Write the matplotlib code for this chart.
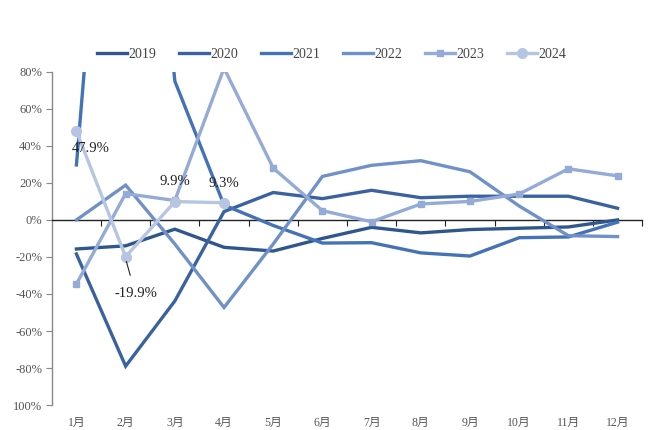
import numpy as np
import matplotlib
matplotlib.use("Agg")
import matplotlib.pyplot as plt
import matplotlib.transforms as mtransforms

plt.rcParams['font.family'] = ['Liberation Serif', 'Noto Sans CJK SC', 'DejaVu Sans']

# month labels and yearly growth rates (%)
months = ['1月', '2月', '3月', '4月', '5月', '6月', '7月', '8月', '9月', '10月', '11月', '12月']
years = ['2019', '2020', '2021', '2022', '2023', '2024']

y2019 = [-15.7, -14, -5, -14.8, -16.8, -10, -4, -7, -5.2, -4.5, -3.8, 0]
y2020 = [-18.4, -79, -43.8, 4.5, 14.8, 11.5, 16, 12, 12.8, 12.8, 12.8, 6.3]
y2021 = [29.7, 350, 75, 8, -3, -12.5, -12.3, -17.8, -19.5, -9.6, -9.2, -1.2]
y2022 = [0, 18.8, -13, -47.3, -13, 23.5, 29.5, 32, 26, 7.5, -8.5, -9]
y2023 = [-34.6, 14.2, 10.5, 82, 28, 5, -1, 8.6, 10, 14, 27.6, 23.8]
y2024 = [47.9, -19.9, 9.9, 9.3, None, None, None, None, None, None, None, None]

series = [y2019, y2020, y2021, y2022, y2023, y2024]
colors = ['#2F578E', '#3B62A0', '#4472B6', '#7090C8', '#93ABD6', '#B6C5E2']
markers = [None, None, None, None, 's', 'o']
msizes = [0, 0, 0, 0, 5, 7]

fig = plt.figure(figsize=(6.48, 4.3), dpi=100)
ax = fig.add_axes([0.080, 0.058, 0.911, 0.775])

x = np.arange(1, 13)
for name, vals, c, m, ms in zip(years, series, colors, markers, msizes):
    v = np.array([np.nan if a is None else a for a in vals], dtype=float)
    ax.plot(x, v, color=c, lw=2.4, marker=m, ms=ms, label=name,
            solid_joinstyle='miter', zorder=3)

ax.set_xlim(0.5, 12.5)
ax.set_ylim(-100, 80)

# y axis
yt = np.arange(-100, 81, 20)
ax.set_yticks(yt)
ax.set_yticklabels(['100%' if t == -100 else '%d%%' % t for t in yt])
ax.tick_params(axis='y', direction='out', length=4, color='#888888',
               labelcolor='#555555', labelsize=9, pad=3)
ax.spines['left'].set_color('#888888')
ax.spines['left'].set_linewidth(1.0)
ax.spines['top'].set_visible(False)
ax.spines['right'].set_visible(False)

# x axis line at zero, tick marks between months
ax.spines['bottom'].set_position(('data', 0))
ax.spines['bottom'].set_color('#222222')
ax.spines['bottom'].set_linewidth(1.0)
ax.set_xticks(np.arange(1.5, 13, 1))
ax.set_xticklabels([])
ax.tick_params(axis='x', direction='out', length=4, color='#222222')

trans = mtransforms.blended_transform_factory(ax.transData, ax.transAxes)
for i, mth in enumerate(months):
    ax.text(i + 1, -0.035, mth, transform=trans, ha='center', va='top',
            fontsize=8.5, color='#555555')

# data labels for 2024
ax.text(0.9, 38.5, '47.9%', fontsize=10.5, ha='left', va='center', color='#222222')
ax.text(3.0, 20.5, '9.9%', fontsize=10.5, ha='center', va='center', color='#222222')
ax.text(4.0, 19.5, '9.3%', fontsize=10.5, ha='center', va='center', color='#222222')
ax.annotate('-19.9%', xy=(2.0, -21), xytext=(2.2, -40), fontsize=10.5,
            ha='center', va='center', color='#222222',
            arrowprops=dict(arrowstyle='-', color='#222222', lw=0.8,
                            shrinkA=7, shrinkB=2))

fig.legend(loc='center', bbox_to_anchor=(0.512, 0.873), ncol=6, frameon=False,
           fontsize=10, handlelength=2.2, handletextpad=0.1, columnspacing=1.6,
           labelcolor='#444444')

fig.savefig('out.png', dpi=100)
